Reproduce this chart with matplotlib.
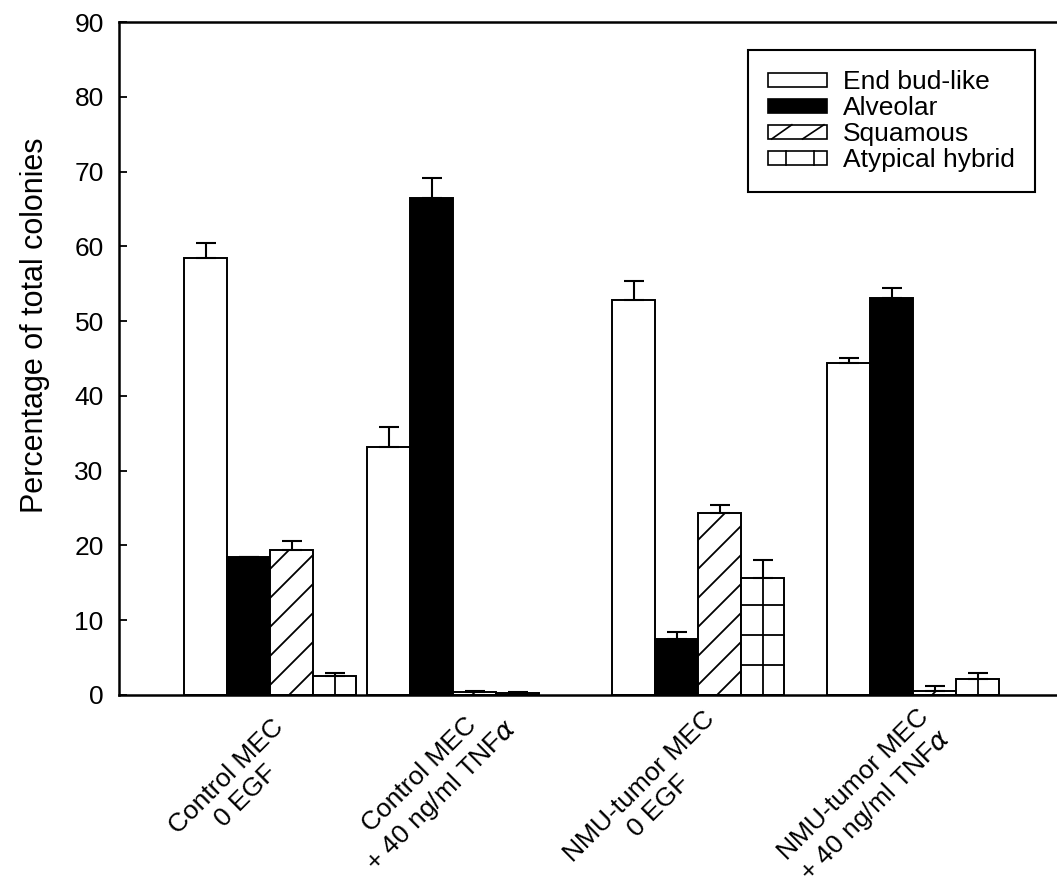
import matplotlib

matplotlib.use("Agg")
import matplotlib.pyplot as plt
import numpy as np
from matplotlib.legend_handler import HandlerBase
from matplotlib.lines import Line2D
from matplotlib.patches import Rectangle

plt.rcParams["font.family"] = ["Liberation Sans", "DejaVu Sans"]

# data
groups = [
    "Control MEC\n0 EGF",
    "Control MEC\n+ 40 ng/ml TNF$\\alpha$",
    "NMU-tumor MEC\n0 EGF",
    "NMU-tumor MEC\n+ 40 ng/ml TNF$\\alpha$",
]
series = ["End bud-like", "Alveolar", "Squamous", "Atypical hybrid"]
end_bud = [58.5, 33.2, 52.8, 44.4]
end_bud_err = [2.0, 2.6, 2.6, 0.7]
alveolar = [18.4, 66.4, 7.5, 53.1]
alveolar_err = [0.0, 2.8, 0.9, 1.3]
squamous = [19.4, 0.4, 24.4, 0.6]
squamous_err = [1.2, 0.2, 1.0, 0.6]
atypical = [2.6, 0.3, 15.7, 2.1]
atypical_err = [0.3, 0.1, 2.4, 0.9]
yticks = [0, 10, 20, 30, 40, 50, 60, 70, 80, 90]

# layout (x axis in screen-like units so the uneven group spacing is kept)
group_x = np.array([270, 453, 698, 913])
label_pos = [(236, -12.2), (431, -12.2), (649, -13.6), (865, -13.5)]
bar_w = 43
xlim = (119, 1057)
lw = 1.4

fig = plt.figure(figsize=(10.57, 8.90), dpi=100)
ax = fig.add_axes([119 / 1057, 1 - 695 / 890, 1 - 119 / 1057, (695 - 22) / 890])
ax.set_xlim(*xlim)
ax.set_ylim(0, 90)

values = [end_bud, alveolar, squamous, atypical]
errors = [end_bud_err, alveolar_err, squamous_err, atypical_err]
faces = ["white", "black", "white", "white"]
containers = []
for i, (vals, errs) in enumerate(zip(values, errors)):
    xs = group_x + (i - 1.5) * bar_w
    bc = ax.bar(xs, vals, width=bar_w, color=faces[i], edgecolor="black",
                linewidth=lw, zorder=2)
    containers.append(bc)
    ax.errorbar(xs, vals, yerr=[np.zeros(len(vals)), errs], fmt="none",
                ecolor="black", elinewidth=1.5, capsize=7.5, capthick=1.5,
                zorder=3)

# hand-drawn sparse hatching
sx = ax.bbox.width / (xlim[1] - xlim[0])
sy = ax.bbox.height / 90.0
step = 29.0
for patch in containers[2].patches:
    x0, w, h = patch.get_x(), patch.get_width(), patch.get_height()
    xx = np.array([x0, x0 + w])
    for k in range(-3, int(h * sy / step) + 3):
        yy = (xx - x0) * sx / sy + (10 + k * step) / sy
        ln = Line2D(xx, yy, color="black", linewidth=1.3, zorder=2.5)
        ax.add_line(ln)
        ln.set_clip_path(patch)
for patch in containers[3].patches:
    x0, w, h = patch.get_x(), patch.get_width(), patch.get_height()
    ax.plot([x0 + w / 2, x0 + w / 2], [0, h], color="black", linewidth=1.3,
            zorder=2.5)
    for yl in np.arange(4, h, 4):
        ax.plot([x0, x0 + w], [yl, yl], color="black", linewidth=1.3,
                zorder=2.5)


class BoxHandler(HandlerBase):
    def __init__(self, kind):
        super().__init__()
        self.kind = kind

    def create_artists(self, legend, orig_handle, xdescent, ydescent, width,
                       height, fontsize, trans):
        x0, y0 = -xdescent, -ydescent
        face = "black" if self.kind == "solid" else "white"
        arts = [Rectangle((x0, y0), width, height, facecolor=face,
                          edgecolor="black", linewidth=1.2, transform=trans)]
        if self.kind == "diag":
            for a, b in [(0.06, 0.40), (0.58, 0.94)]:
                arts.append(Line2D([x0 + a * width, x0 + b * width],
                                   [y0, y0 + height], color="black",
                                   linewidth=1.2, transform=trans))
        if self.kind == "grid":
            for a in [0.30, 0.78]:
                arts.append(Line2D([x0 + a * width, x0 + a * width],
                                   [y0, y0 + height], color="black",
                                   linewidth=1.2, transform=trans))
        return arts


kinds = ["open", "solid", "diag", "grid"]
handles = [Rectangle((0, 0), 1, 1) for _ in series]
leg = ax.legend(handles, series, loc="upper right",
                bbox_to_anchor=(0.9765, 0.958), borderaxespad=0,
                handler_map={h: BoxHandler(k) for h, k in zip(handles, kinds)},
                fontsize=19, frameon=True, fancybox=False, framealpha=1,
                edgecolor="black", handlelength=2.25, handleheight=0.45,
                handletextpad=0.6, labelspacing=0.08, borderpad=0.75)
leg.get_frame().set_linewidth(1.5)

ax.spines["right"].set_visible(False)
for s in ["left", "top", "bottom"]:
    ax.spines[s].set_linewidth(1.8)

ax.set_yticks(yticks)
ax.tick_params(axis="y", direction="in", length=6, width=1.3, pad=11,
               labelsize=19)
ax.set_xticks([])
ax.set_ylabel("Percentage of total colonies", fontsize=22)
ax.yaxis.set_label_coords(-0.0736, 0.55)

for (lx, ly), name in zip(label_pos, groups):
    ax.text(lx, ly, name, rotation=45, rotation_mode="anchor",
            ha="center", va="center", multialignment="center", fontsize=19,
            transform=ax.transData, clip_on=False)

fig.savefig("out.png", dpi=100)
